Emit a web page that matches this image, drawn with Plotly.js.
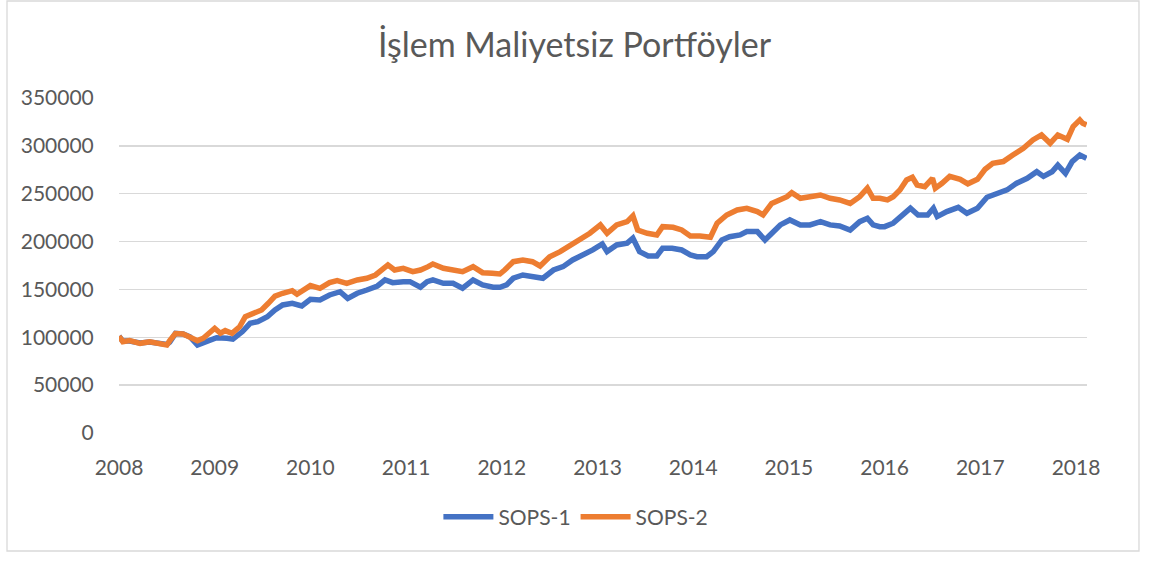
<!DOCTYPE html>
<html>
<head>
<meta charset="utf-8">
<script src="https://cdn.plot.ly/plotly-3.0.1.min.js"></script>
<style>
html,body{margin:0;padding:0;background:#fff;}
#chart{width:1149px;height:561px;}
</style>
</head>
<body>
<div id="chart"></div>
<script>
const chartTitle = "İşlem Maliyetsiz Portföyler";
const seriesNames = ["SOPS-1", "SOPS-2"];
const yearTicks = [2008, 2009, 2010, 2011, 2012, 2013, 2014, 2015, 2016, 2017, 2018];

const sops1Years = [2008.00,2008.04,2008.11,2008.22,2008.32,2008.43,2008.50,2008.53,2008.59,2008.67,2008.74,2008.82,2008.92,2009.02,2009.13,2009.19,2009.29,2009.37,2009.45,2009.55,2009.63,2009.71,2009.81,2009.91,2010.00,2010.10,2010.20,2010.31,2010.39,2010.49,2010.59,2010.70,2010.78,2010.86,2010.97,2011.04,2011.15,2011.22,2011.28,2011.39,2011.49,2011.59,2011.70,2011.80,2011.91,2011.98,2012.05,2012.12,2012.22,2012.33,2012.43,2012.54,2012.64,2012.74,2012.85,2012.95,2013.05,2013.10,2013.20,2013.31,2013.37,2013.44,2013.53,2013.62,2013.68,2013.78,2013.88,2013.97,2014.04,2014.14,2014.21,2014.30,2014.38,2014.49,2014.56,2014.67,2014.75,2014.83,2014.91,2015.01,2015.12,2015.22,2015.33,2015.43,2015.53,2015.64,2015.74,2015.82,2015.88,2015.95,2016.00,2016.09,2016.18,2016.27,2016.35,2016.45,2016.51,2016.55,2016.65,2016.77,2016.86,2016.97,2017.07,2017.17,2017.28,2017.38,2017.49,2017.59,2017.66,2017.75,2017.81,2017.89,2017.96,2018.04,2018.11];
const sops1Values = [101000,96000,96000,94000,95000,94000,92500,95000,104000,103500,100600,92000,95400,99600,99000,98000,106000,114600,116400,121500,128500,133800,135500,132700,139700,139000,144200,147600,140700,146000,149400,153600,159900,157100,158100,158100,152300,158100,159900,156400,156400,151200,159900,154700,152300,152300,154700,161700,165100,163300,161700,170300,173800,180800,186100,191300,197500,189500,196500,198300,203500,189500,185000,185000,193000,193000,191200,186100,184200,184200,189500,201700,205100,206900,210400,210400,201700,210400,217400,222600,217400,217400,220800,217400,216300,212100,220800,224300,217400,215600,215600,219200,227800,234800,227800,227800,234800,226100,231300,235800,229600,234800,246300,250500,254000,261000,266100,273000,268100,273000,279800,271300,283600,290500,287000];

const sops2Years = [2008.00,2008.04,2008.11,2008.22,2008.32,2008.43,2008.50,2008.53,2008.59,2008.67,2008.74,2008.82,2008.88,2008.95,2009.00,2009.06,2009.11,2009.18,2009.26,2009.32,2009.40,2009.49,2009.56,2009.63,2009.71,2009.81,2009.86,2009.94,2010.00,2010.10,2010.20,2010.28,2010.38,2010.49,2010.59,2010.68,2010.76,2010.81,2010.88,2010.97,2011.07,2011.15,2011.23,2011.28,2011.39,2011.49,2011.59,2011.70,2011.80,2011.90,2011.98,2012.03,2012.12,2012.22,2012.32,2012.40,2012.50,2012.61,2012.71,2012.82,2012.92,2013.03,2013.10,2013.20,2013.31,2013.37,2013.42,2013.52,2013.62,2013.68,2013.79,2013.88,2013.97,2014.07,2014.18,2014.25,2014.35,2014.46,2014.56,2014.67,2014.73,2014.82,2014.91,2014.98,2015.03,2015.12,2015.22,2015.33,2015.43,2015.53,2015.64,2015.74,2015.82,2015.88,2015.95,2016.03,2016.09,2016.16,2016.23,2016.29,2016.34,2016.42,2016.50,2016.53,2016.60,2016.68,2016.79,2016.87,2016.97,2017.05,2017.13,2017.24,2017.34,2017.45,2017.55,2017.64,2017.73,2017.81,2017.91,2017.97,2018.04,2018.07,2018.11];
const sops2Values = [101000,95400,96500,93700,95400,93000,92000,96500,104000,103500,100600,96500,99000,104800,109400,104200,107000,104200,111000,121500,125000,128500,135500,143000,146000,148700,145000,149400,154000,151200,157100,159200,156400,159900,161700,165100,172100,175600,170300,172100,168600,170300,173800,176600,172100,171000,168600,173800,167500,166900,166100,170300,179000,180800,179000,174500,184200,189500,195400,201700,208700,217400,208700,217400,220800,226800,212100,208700,206900,215600,214900,212100,205900,205900,204500,219200,227800,233000,234800,231300,227800,239900,243500,246900,251100,245200,246900,248700,245200,243500,239900,246900,255700,245200,245200,243500,246900,253900,264400,267200,259100,257400,266100,255700,260900,268100,265000,260300,265000,275500,281800,283600,290500,297500,306200,311400,302700,311400,306900,320100,327100,323600,321900];

const yTickVals = [0, 50000, 100000, 150000, 200000, 250000, 300000, 350000];

const textColor = '#595959';
const fontFam = 'Lato, "Open Sans", sans-serif';

const traces = [
  {x: sops1Years, y: sops1Values, name: seriesNames[0], type: 'scatter', mode: 'lines',
   line: {color: '#4472C4', width: 5.5}},
  {x: sops2Years, y: sops2Values, name: seriesNames[1], type: 'scatter', mode: 'lines',
   line: {color: '#ED7D31', width: 5.5}}
];

const layout = {
  width: 1149, height: 561,
  margin: {l: 119, r: 62, t: 98, b: 128},
  paper_bgcolor: '#ffffff', plot_bgcolor: '#ffffff',
  font: {family: fontFam, color: textColor, size: 21},
  title: {text: chartTitle, font: {family: fontFam, size: 34, color: textColor},
          xref: 'container', x: 0.5, xanchor: 'center', yref: 'container', y: 0.92, yanchor: 'middle'},
  xaxis: {range: [2008, 2018.115], tickvals: yearTicks, ticktext: yearTicks.map(String),
          showgrid: false, zeroline: false, showline: false,
          ticks: 'outside', ticklen: 16, tickcolor: 'rgba(0,0,0,0)',
          tickfont: {family: fontFam, size: 21, color: textColor}},
  yaxis: {range: [0, 350000], tickvals: yTickVals, tickformat: 'd',
          showgrid: true, gridcolor: '#D9D9D9', gridwidth: 1.3, zeroline: false, showline: false,
          ticks: 'outside', ticklen: 20, tickcolor: 'rgba(0,0,0,0)',
          tickfont: {family: fontFam, size: 21, color: textColor}},
  showlegend: true,
  legend: {orientation: 'h', x: 0.472, xanchor: 'center', y: -0.251, yanchor: 'middle',
           font: {family: fontFam, size: 21, color: textColor}, itemwidth: 50},
  shapes: [{type: 'rect', xref: 'paper', yref: 'paper', x0: -0.1157, x1: 1.0537, y0: -0.3522, y1: 1.2896,
            line: {color: '#D9D9D9', width: 1.3}, fillcolor: 'rgba(0,0,0,0)', layer: 'below'}]
};

Plotly.newPlot('chart', traces, layout, {displayModeBar: false, staticPlot: true});
</script>
</body>
</html>
